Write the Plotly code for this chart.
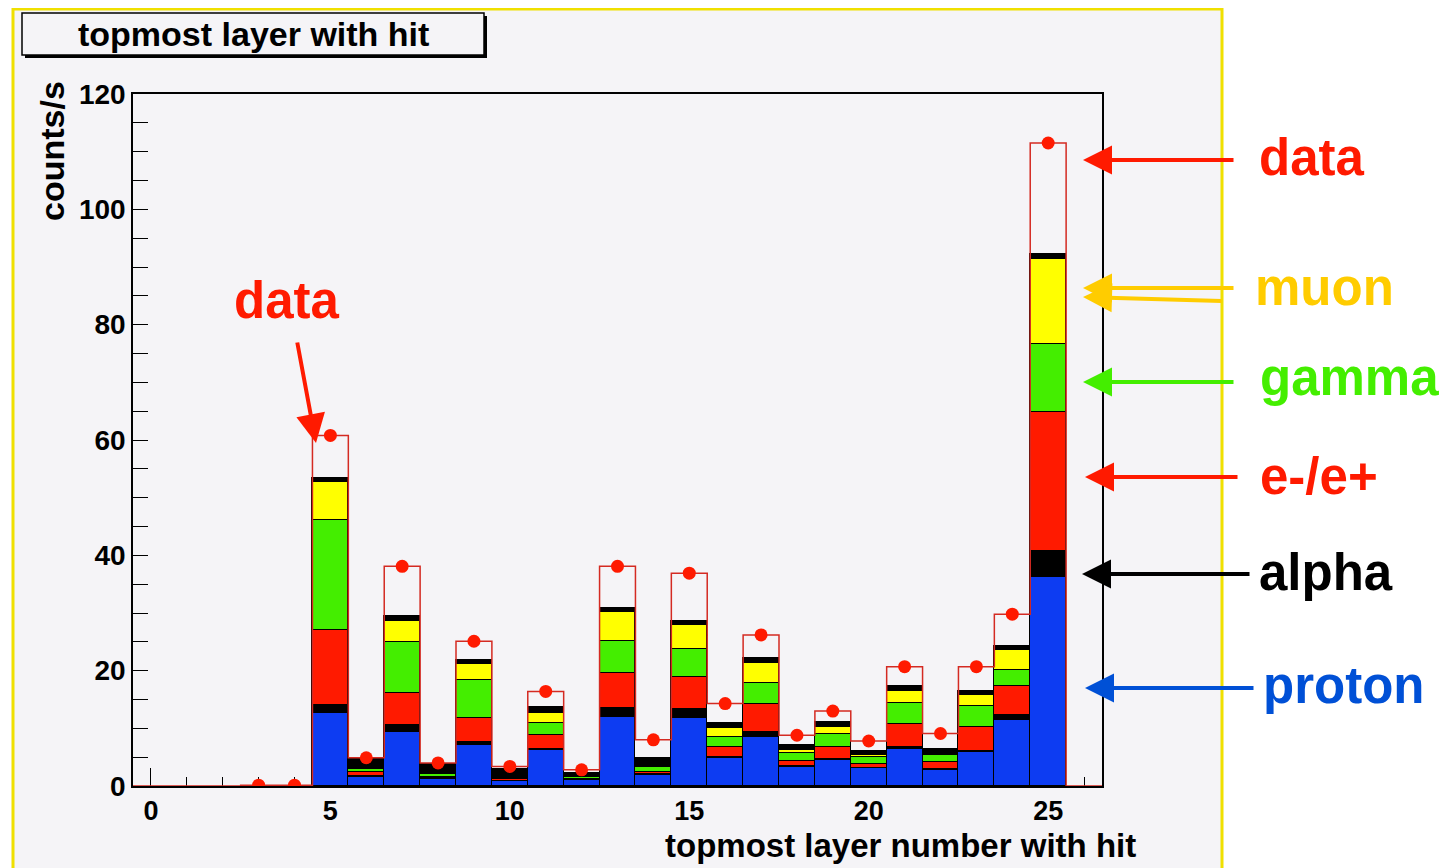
import plotly.graph_objects as go

# ---------------- data ----------------
layers = list(range(5, 26))
proton = [12.7, 1.6, 9.4, 1.3, 7.1, 0.8, 6.2, 1.0, 12.0, 1.9, 11.8, 4.8, 8.5, 3.3, 4.5, 3.1, 6.5, 2.8, 5.9, 11.4, 36.2]
alpha  = [1.3, 0.2, 1.2, 0.1, 0.6, 0.1, 0.3, 0.1, 1.6, 0.1, 1.5, 0.2, 0.9, 0.1, 0.1, 0.1, 0.2, 0.1, 0.2, 0.9, 4.5]
elec   = [13.1, 0.6, 5.6, 0.2, 4.1, 0.3, 2.3, 0.1, 6.0, 0.5, 5.6, 1.8, 4.8, 1.0, 2.2, 0.7, 4.0, 1.3, 4.1, 5.1, 24.1]
gamma  = [19.1, 0.5, 8.8, 0.4, 6.6, 0.1, 2.1, 0.4, 5.6, 0.8, 4.8, 1.7, 3.7, 1.3, 2.3, 1.1, 3.7, 1.1, 3.7, 2.8, 11.9]
muon   = [6.5, 0.2, 3.7, 0.1, 2.7, 0.1, 1.8, 0.1, 5.0, 0.2, 4.2, 1.5, 3.5, 0.5, 1.2, 0.3, 2.1, 0.3, 1.8, 3.3, 14.7]
other  = [0.7, 1.5, 0.7, 1.7, 0.7, 1.5, 1.0, 0.6, 0.7, 1.3, 0.8, 0.9, 0.8, 0.9, 0.8, 0.8, 0.9, 0.9, 0.7, 0.8, 0.9]

data_bins = list(range(0, 27))
data_vals = [0, 0, 0, 0.15, 0.15, 60.8, 4.9, 38.1, 4.0, 25.1, 3.4, 16.4, 2.8, 38.1, 8.0,
             36.9, 14.3, 26.2, 8.8, 13.0, 7.8, 20.7, 9.1, 20.7, 29.8, 111.5, 0]
marker_bins = list(range(3, 26))

x_ticks = [0, 5, 10, 15, 20, 25]
y_ticks = [0, 20, 40, 60, 80, 100, 120]

# ---------------- geometry (page pixels) ----------------
W, H = 1452, 868
OFF = 8  # default body margin of the html page
L, R, T, B = 133, 1102, 94, 786
PW, PH = R - L, B - T


def px(xp):
    return (xp - L) / PW


def py(yp):
    return (B - yp) / PH


BLUE = "#0d3cf2"
RED = "#ff1a00"
GREEN = "#44ee00"
YELLOW = "#ffff00"
BG = "#f5f4f7"

fig = go.Figure()

stack = [
    ("proton", proton, BLUE),
    ("alpha", alpha, "#000000"),
    ("e-/e+", elec, RED),
    ("gamma", gamma, GREEN),
    ("muon", muon, YELLOW),
    ("other", other, "#000000"),
]
for name, vals, col in stack:
    fig.add_trace(go.Bar(
        x=layers, y=vals, name=name, width=1.0,
        marker=dict(color=col, line=dict(color="#000000", width=1.2)),
        showlegend=False,
    ))

# data histogram outline (step) + markers
step_x = [-0.5] + data_bins + [26.5]
step_y = [0] + data_vals + [0]
fig.add_trace(go.Scatter(
    x=step_x, y=step_y, mode="lines", line=dict(color="#d42a22", width=1.5, shape="hvh"),
    showlegend=False, hoverinfo="skip",
))
fig.add_trace(go.Scatter(
    x=marker_bins, y=[data_vals[b] for b in marker_bins], mode="markers",
    marker=dict(color=RED, size=13, line=dict(width=0)),
    showlegend=False,
))

FONT = "Liberation Sans, Arial, Helvetica, sans-serif"

shapes = [
    # ROOT canvas with yellow border
    dict(type="rect", xref="paper", yref="paper", layer="below",
         x0=px(13), x1=px(1222), y0=py(880), y1=py(9),
         fillcolor=BG, line=dict(color="#f0e000", width=3)),
    # title box shadow
    dict(type="rect", xref="paper", yref="paper",
         x0=px(25), x1=px(487), y0=py(58), y1=py(16),
         fillcolor="#000000", line=dict(width=0)),
    # title box
    dict(type="rect", xref="paper", yref="paper",
         x0=px(22), x1=px(484), y0=py(55), y1=py(13),
         fillcolor=BG, line=dict(color="#000000", width=1.5)),
]

annotations = [
    dict(text="<b>topmost layer with hit</b>", xref="paper", yref="paper",
         x=px(253), y=py(34), showarrow=False, xanchor="center", yanchor="middle",
         font=dict(family=FONT, size=34, color="#000000")),
    dict(text="<b>counts/s</b>", xref="paper", yref="paper", textangle=-90,
         x=px(52), y=py(79), showarrow=False, xanchor="center", yanchor="top",
         font=dict(family=FONT, size=34, color="#000000")),
    dict(text="<b>topmost layer number with hit</b>", xref="paper", yref="paper",
         x=px(1138), y=py(846), showarrow=False, xanchor="right", yanchor="middle",
         font=dict(family=FONT, size=33, color="#000000")),
]

labels = [
    ("data", RED, 1257, 157),
    ("muon", "#ffcc00", 1253, 287),
    ("gamma", GREEN, 1258, 377),
    ("e-/e+", RED, 1258, 476),
    ("alpha", "#000000", 1257, 572),
    ("proton", "#0050d6", 1261, 685),
    ("data", RED, 232, 300),
]
for txt, col, xl, yc in labels:
    annotations.append(dict(
        text="<b>%s</b>" % txt, xref="paper", yref="paper", x=px(xl), y=py(yc),
        showarrow=False, xanchor="left", yanchor="middle",
        font=dict(family=FONT, size=51, color=col)))

arrows = [
    (RED, 1235, 160, 1083, 160),
    ("#ffcc00", 1235, 288, 1083, 288),
    ("#ffcc00", 1223, 301, 1083, 297),
    (GREEN, 1235, 382, 1083, 382),
    (RED, 1239, 477, 1085, 477),
    ("#000000", 1251, 574, 1082, 574),
    ("#0050d6", 1255, 688, 1085, 688),
    (RED, 297, 341, 316, 443),
]
for col, tx, ty, hx, hy in arrows:
    annotations.append(dict(
        text="", xref="paper", yref="paper", x=px(hx), y=py(hy),
        ax=tx - hx, ay=ty - hy, axref="pixel", ayref="pixel",
        showarrow=True, arrowhead=2, arrowsize=1.45, arrowwidth=4, arrowcolor=col,
        standoff=0))

fig.update_layout(
    width=W - OFF, height=H - OFF,
    margin=dict(l=L - OFF, r=W - R, t=T - OFF, b=H - B, pad=0),
    paper_bgcolor="#ffffff", plot_bgcolor=BG,
    barmode="stack", bargap=0,
    showlegend=False,
    shapes=shapes, annotations=annotations,
    xaxis=dict(
        range=[-0.5, 26.5], tickvals=x_ticks, ticktext=[str(v) for v in x_ticks],
        ticks="inside", ticklen=18, tickwidth=1.2, tickcolor="#000000",
        minor=dict(dtick=1, tick0=0, ticks="inside", ticklen=9, tickwidth=1.2, tickcolor="#000000"),
        showgrid=False, zeroline=False, showline=True, linecolor="#000000", linewidth=1.5,
        mirror=True, layer="below traces",
        tickfont=dict(family=FONT, size=27, color="#000000", weight="bold"),
    ),
    yaxis=dict(
        range=[0, 120], tickvals=y_ticks, ticktext=[str(v) for v in y_ticks],
        ticks="inside", ticklen=15, tickwidth=1.2, tickcolor="#000000",
        minor=dict(dtick=5, tick0=0, ticks="inside", ticklen=15, tickwidth=1.2, tickcolor="#000000"),
        showgrid=False, zeroline=False, showline=True, linecolor="#000000", linewidth=1.5,
        mirror=True,
        tickfont=dict(family=FONT, size=28, color="#000000", weight="bold"),
    ),
)

fig.write_html("out.html")
